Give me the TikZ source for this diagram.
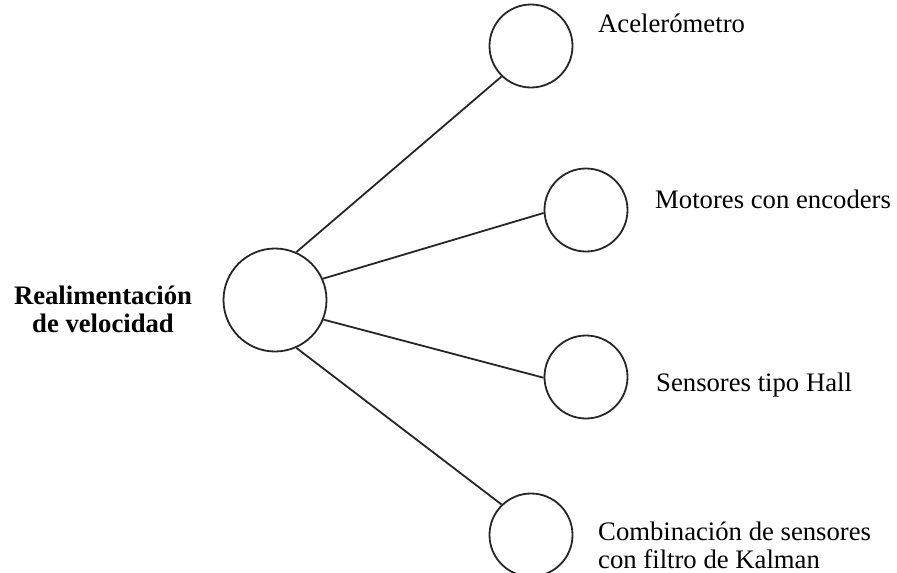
\documentclass[tikz,border=0pt]{standalone}
\usepackage{fontspec}
\setmainfont{Liberation Serif}
\begin{document}
\begin{tikzpicture}[x=1pt,y=-1pt,
  bigc/.style={circle,draw=black!85,line width=1.8pt,minimum size=103pt,inner sep=0pt},
  smallc/.style={circle,draw=black!85,line width=1.8pt,minimum size=83pt,inner sep=0pt},
  conn/.style={draw=black!85,line width=1.8pt},
  lbl/.style={inner sep=0pt,font=\fontsize{26.7}{28}\selectfont}]
\useasboundingbox (0,0) rectangle (897,573);
\node[bigc] (big) at (275,300) {};
\node[smallc] (acc) at (531,46) {};
\node[smallc] (mot) at (586,210) {};
\node[smallc] (hall) at (586,377) {};
\node[smallc] (comb) at (531,535) {};
\draw[conn] (big.66) -- (acc.226);
\draw[conn] (big.24) -- (mot.184);
\draw[conn] (big.-22) -- (hall.181);
\draw[conn] (big.-66) -- (comb.134);
\node[lbl,font=\fontsize{26.7}{28}\selectfont\bfseries,align=center] (tmain) at (103,309) {Realimentación\\de velocidad};
\node[lbl,anchor=base west] (tacc) at (598,32) {Acelerómetro};
\node[lbl,anchor=base west] (tmot) at (655,208) {Motores con encoders};
\node[lbl,anchor=base west] (thall) at (656,391) {Sensores tipo Hall};
\node[lbl,anchor=base west,align=left] (tcomb) at (598,568) {Combinación de sensores\\con filtro de Kalman};
\end{tikzpicture}
\end{document}
